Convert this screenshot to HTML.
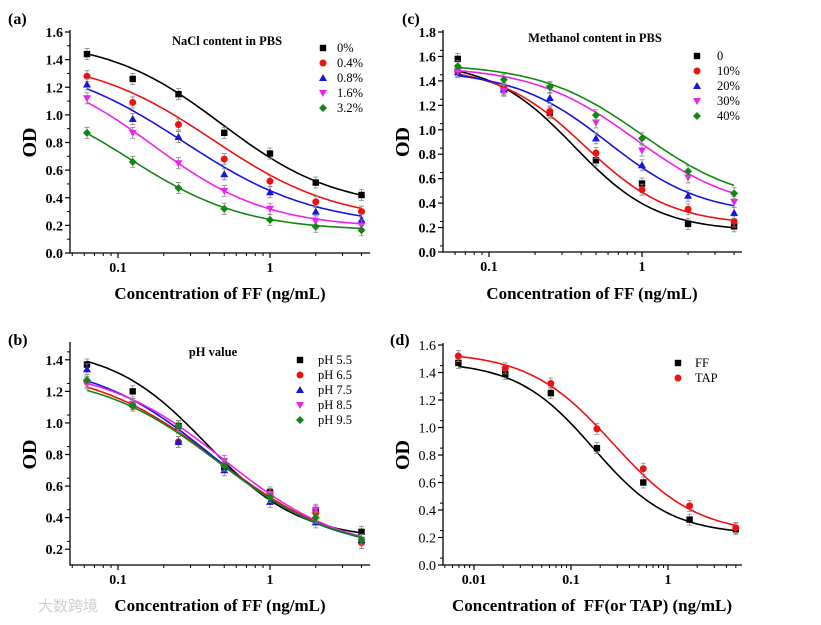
<!DOCTYPE html>
<html><head><meta charset="utf-8">
<style>
html,body{margin:0;padding:0;background:#fff;}
svg{display:block;font-family:"Liberation Serif",serif;}
</style></head>
<body>
<svg id="fig" width="821" height="625" viewBox="0 0 821 625" xmlns="http://www.w3.org/2000/svg"></svg>
<script>
// ---- Data ----
const xA = [0.0625,0.125,0.25,0.5,1,2,4];
const namesA = ["0%","0.4%","0.8%","1.6%","3.2%"];
const valsA = [
 [1.44,1.26,1.15,0.87,0.72,0.51,0.42],
 [1.28,1.09,0.93,0.68,0.52,0.37,0.30],
 [1.22,0.97,0.84,0.57,0.44,0.30,0.24],
 [1.12,0.87,0.65,0.45,0.32,0.23,0.20],
 [0.87,0.66,0.47,0.32,0.24,0.19,0.165]];
const fitA = [[1.55,0.32,0.48,1.15],[1.42,0.22,0.42,1.05],[1.42,0.19,0.27,1.0],[1.38,0.18,0.17,1.15],[1.2,0.16,0.12,1.15]];

const xC = [0.0625,0.125,0.25,0.5,1,2,4];
const namesC = ["0","10%","20%","30%","40%"];
const valsC = [
 [1.58,1.33,1.14,0.75,0.56,0.23,0.21],
 [1.48,1.34,1.15,0.81,0.51,0.35,0.25],
 [1.47,1.33,1.26,0.93,0.71,0.46,0.32],
 [1.48,1.32,1.34,1.06,0.83,0.61,0.41],
 [1.52,1.41,1.35,1.12,0.93,0.66,0.48]];
const fitC = [[1.56,0.17,0.36,1.6],[1.52,0.22,0.42,1.55],[1.49,0.3,0.6,1.4],[1.52,0.33,0.9,1.3],[1.54,0.38,1.0,1.3]];

const xB = [0.0625,0.125,0.25,0.5,1,2,4];
const namesB = ["pH 5.5","pH 6.5","pH 7.5","pH 8.5","pH 9.5"];
const valsB = [
 [1.37,1.20,0.98,0.72,0.56,0.44,0.31],
 [1.26,1.11,0.88,0.73,0.55,0.43,0.24],
 [1.34,1.12,0.88,0.70,0.50,0.37,0.26],
 [1.25,1.12,0.97,0.76,0.55,0.45,0.26],
 [1.27,1.11,0.98,0.73,0.53,0.40,0.26]];
const fitB = [[1.48,0.26,0.38,1.4],[1.36,0.17,0.45,1.05],[1.4,0.18,0.42,1.1],[1.36,0.17,0.5,1.1],[1.32,0.18,0.46,1.1]];

const xD = [0.0069,0.021,0.062,0.185,0.556,1.67,5];
const namesD = ["FF","TAP"];
const valsD = [
 [1.47,1.39,1.25,0.85,0.60,0.33,0.26],
 [1.52,1.43,1.32,0.99,0.70,0.43,0.27]];
const fitD = [[1.48,0.22,0.17,1.1],[1.55,0.22,0.27,1.0]];

const ticksA = ["0.0","0.2","0.4","0.6","0.8","1.0","1.2","1.4","1.6"];
const ticksC = ["0.0","0.2","0.4","0.6","0.8","1.0","1.2","1.4","1.6","1.8"];
const ticksB = ["0.2","0.4","0.6","0.8","1.0","1.2","1.4"];
const ticksD = ["0.0","0.2","0.4","0.6","0.8","1.0","1.2","1.4","1.6"];

const colors = ["#000000","#ee1111","#1515dd","#ee22ee","#118811"];
const shapes = ["square","circle","up","down","diamond"];

const NS="http://www.w3.org/2000/svg";
const svg=document.getElementById('fig');
function mk(tag,attrs,parent){const e=document.createElementNS(NS,tag);for(const k in attrs)e.setAttribute(k,attrs[k]);(parent||svg).appendChild(e);return e;}
function txt(s,attrs,parent){const e=mk('text',attrs,parent);e.textContent=s;return e;}

function marker(g,shape,x,y,c){
  let e;
  if(shape==="square") e=mk('rect',{x:x-3.2,y:y-3.2,width:6.4,height:6.4,fill:c},g);
  else if(shape==="circle") e=mk('circle',{cx:x,cy:y,r:3.5,fill:c},g);
  else if(shape==="up") e=mk('polygon',{points:`${x},${y-4} ${x-4},${y+3} ${x+4},${y+3}`,fill:c},g);
  else if(shape==="down") e=mk('polygon',{points:`${x},${y+4} ${x-4},${y-3} ${x+4},${y-3}`,fill:c},g);
  else e=mk('polygon',{points:`${x},${y-4} ${x+4},${y} ${x},${y+4} ${x-4},${y}`,fill:c},g);
  return e;
}

function panel(p){
  const g=mk('g',{});
  
  
  const X=v=>p.x1+(Math.log10(v)-Math.log10(p.xref))*p.dec;
  const Y=v=>p.y0-(v-p.ymin)/(p.ymax-p.ymin)*(p.y0-p.ytop);
  const ax=mk('path',{d:`M${p.ax} ${p.ytop-2} V${p.y0} H${p.axr}`,stroke:'#000','stroke-width':1.3,fill:'none'},g);
  
  
  p.yt.forEach((t,i)=>{
    const v=parseFloat(t), y=Y(v);
    mk('line',{x1:p.ax-5,x2:p.ax,y1:y,y2:y,stroke:'#000','stroke-width':1.2},g);
    const my=Y(v+p.ystep/2);
    if(my>p.ytop-1) mk('line',{x1:p.ax-3,x2:p.ax,y1:my,y2:my,stroke:'#000','stroke-width':1},g);
    const l=txt(t,{x:p.ax-7,y:y+5,'text-anchor':'end','font-size':14,'font-weight':p.ybold?'bold':'normal'},g);
    
    
  });
  for(let e=-4;e<=1;e++){
    for(let m=1;m<10;m++){
      const v=m*Math.pow(10,e), x=X(v);
      if(x<p.ax+1||x>p.axr) continue;
      const big=m===1;
      mk('line',{x1:x,x2:x,y1:p.y0,y2:p.y0+(big?5:3),stroke:'#000','stroke-width':big?1.2:1},g);
      if(big){
        const l=txt(String(+v.toPrecision(3)),{x:x,y:p.y0+19,'text-anchor':'middle','font-size':14,'font-weight':'bold'},g);
        
        
      }
    }
  }
  const xt=txt(p.xtitle,{x:p.xtx,y:p.xty,'text-anchor':'middle','font-size':17,'font-weight':'bold',style:'white-space:pre'},g);
  
  
  const yt=txt('OD',{x:0,y:0,'text-anchor':'middle','font-size':20,'font-weight':'bold',transform:`translate(${p.ax-34},${(p.y0+p.ytop)/2}) rotate(-90)`},g);
  
  
  const lt=txt(p.letter,{x:p.lx,y:p.ly,'font-size':16,'font-weight':'bold'},g);
  
  
  if(p.title){
    const ti=txt(p.title,{x:p.tx,y:p.ty,'text-anchor':'middle','font-size':12.5,'font-weight':'bold'},g);
    
    
  }
  p.vals.forEach((vals,s)=>{
    const c=colors[s], f=p.fit[s];
    const sg=mk('g',{},g);
    
    
    let d='';
    const lo=Math.log10(p.xs[0]), hi=Math.log10(p.xs[p.xs.length-1]);
    for(let i=0;i<=80;i++){
      const xv=Math.pow(10,lo+(hi-lo)*i/80);
      const yv=f[1]+(f[0]-f[1])/(1+Math.pow(xv/f[2],f[3]));
      d+=(i?'L':'M')+X(xv).toFixed(1)+' '+Y(yv).toFixed(1);
    }
    const ln=mk('path',{d:d,stroke:c,'stroke-width':1.6,fill:'none'},sg);
    
    
    vals.forEach((v,i)=>{
      const x=X(p.xs[i]), y=Y(v), e=(p.y0-p.ytop)*0.025;
      mk('path',{d:`M${x} ${y-e}V${y+e}M${x-2.5} ${y-e}H${x+2.5}M${x-2.5} ${y+e}H${x+2.5}`,stroke:'#888','stroke-width':0.8,fill:'none'},sg);
      const m=marker(sg,shapes[s],x,y,c);
      
      
    });
    const ly=p.legy+s*15;
    const lg=mk('g',{},g);
    
    
    marker(lg,shapes[s],p.legx,ly-4,c);
    txt(p.names[s],{x:p.legx+p.legg,y:ly,'font-size':12.5},lg);
  });
}

panel({id:'a',letter:'(a)',lx:8,ly:24,ax:70,axr:370,x1:118,xref:0.1,dec:152,ytop:32,y0:253,ymin:0,ymax:1.6,ystep:0.2,yt:ticksA,ybold:true,
  xs:xA,vals:valsA,fit:fitA,names:namesA,xtitle:'Concentration of FF (ng/mL)',xtx:220,xty:299,title:'NaCl content in PBS',tx:227,ty:45,legx:323,legg:14,legy:52});
panel({id:'c',letter:'(c)',lx:402,ly:24,ax:443,axr:742,x1:489,xref:0.1,dec:153,ytop:32,y0:252,ymin:0,ymax:1.8,ystep:0.1,yt:ticksC,ybold:true,
  xs:xC,vals:valsC,fit:fitC,names:namesC,xtitle:'Concentration of FF (ng/mL)',xtx:592,xty:299,title:'Methanol content in PBS',tx:595,ty:42,legx:697,legg:20,legy:60});
panel({id:'b',letter:'(b)',lx:8,ly:345,ax:70,axr:370,x1:118,xref:0.1,dec:152,ytop:344,y0:565,ymin:0.1,ymax:1.5,ystep:0.1,yt:ticksB,ybold:true,
  xs:xB,vals:valsB,fit:fitB,names:namesB,xtitle:'Concentration of FF (ng/mL)',xtx:220,xty:611,title:'pH value',tx:213,ty:356,legx:300,legg:18,legy:364});
panel({id:'d',letter:'(d)',lx:390,ly:345,ax:443,axr:742,x1:571,xref:0.1,dec:97,ytop:345,y0:565,ymin:0,ymax:1.6,ystep:0.1,yt:ticksD,ybold:false,
  xs:xD,vals:valsD,fit:fitD,names:namesD,xtitle:'Concentration of  FF(or TAP) (ng/mL)',xtx:592,xty:611,title:'',legx:678,legg:17,legy:367});

const wm=txt('大数跨境',{x:38,y:611,'font-size':15,fill:'#cfcfcf','font-family':'"Noto Sans CJK SC",sans-serif'});


</script>
</body></html>
